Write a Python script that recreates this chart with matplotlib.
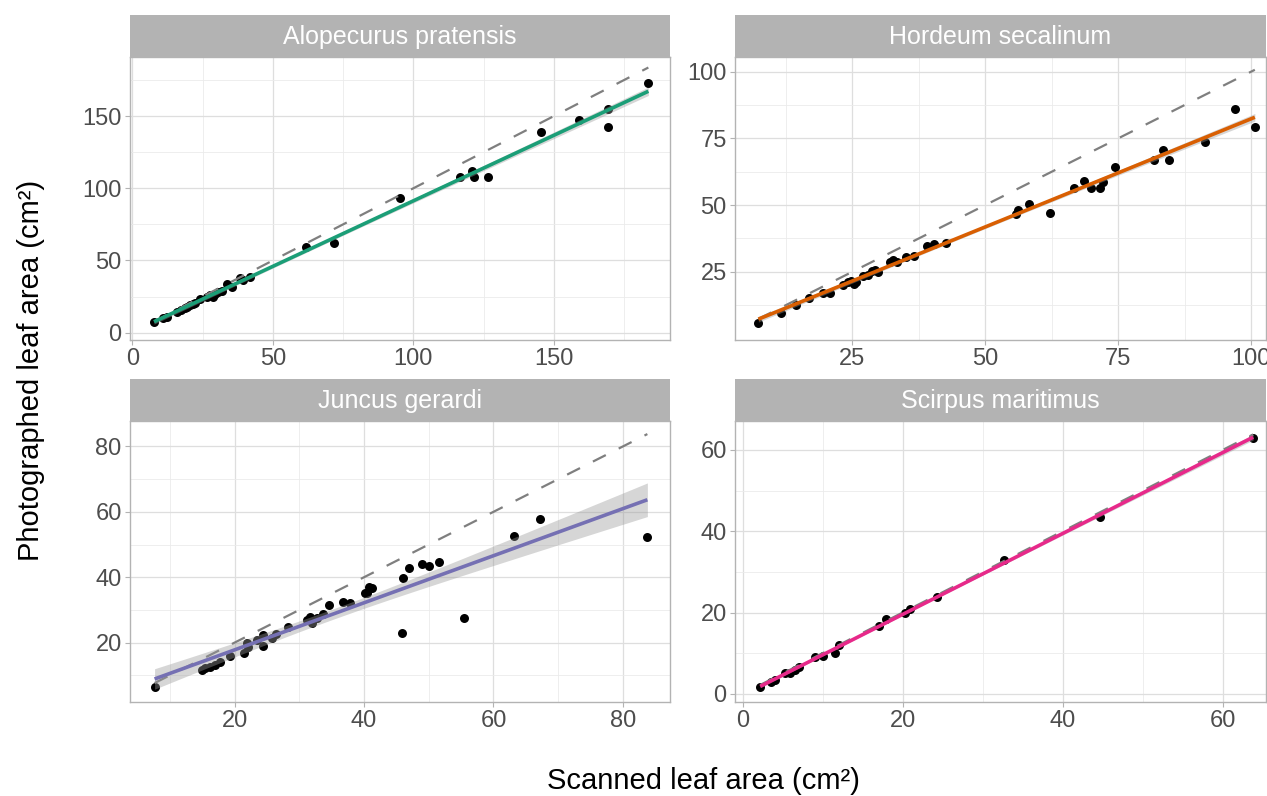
import numpy as np
import matplotlib
matplotlib.use("Agg")
import matplotlib.pyplot as plt
from matplotlib.ticker import FixedLocator

plt.rcParams['font.family'] = ['Liberation Sans', 'DejaVu Sans']

species = ["Alopecurus pratensis", "Hordeum secalinum", "Juncus gerardi", "Scirpus maritimus"]
colors = ["#1B9E77", "#D95F02", "#7570B3", "#E7298A"]

alo_x = [7.7, 11.0, 12.2, 15.8, 17.2, 18.7, 19.5, 20.6, 21.5, 22.4, 24.1, 26.5, 27.6, 28.8, 29.5,
         30.6, 31.8, 33.6, 35.3, 38.3, 39.5, 41.9, 61.6, 71.9, 95.3, 116.7, 120.7, 121.5, 126.6,
         145.4, 158.9, 169.1, 169.1, 183.6]
alo_y = [7.4, 9.9, 11.1, 14.5, 15.5, 16.9, 18.0, 19.2, 19.5, 20.8, 23.1, 25.0, 26.1, 24.9, 27.0,
         28.4, 29.1, 33.5, 31.9, 37.7, 36.5, 38.8, 59.6, 61.9, 93.0, 107.7, 111.7, 107.7, 107.5,
         138.7, 147.3, 155.1, 142.2, 172.7]

hor_x = [7.3, 11.5, 14.4, 16.9, 19.4, 20.7, 23.2, 24.2, 24.7, 25.2, 25.6, 27.0, 28.0, 28.7, 29.3,
         29.8, 32.0, 32.7, 33.3, 35.1, 36.6, 39.1, 40.3, 42.6, 55.7, 56.1, 58.3, 62.2, 66.6, 68.5,
         69.9, 71.6, 72.2, 74.4, 81.7, 83.5, 84.6, 91.4, 97.0, 100.7]
hor_y = [5.6, 9.6, 12.7, 15.0, 16.9, 17.1, 20.2, 21.2, 21.5, 20.3, 21.0, 23.4, 23.8, 25.4, 25.8,
         24.8, 28.7, 29.4, 28.5, 30.6, 31.0, 34.7, 35.4, 35.6, 46.6, 48.1, 50.4, 47.2, 56.2, 59.1,
         56.2, 56.2, 58.7, 64.1, 66.9, 70.6, 66.9, 73.7, 86.0, 79.3]

jun_x = [7.6, 14.9, 15.4, 16.2, 17.0, 17.7, 19.3, 21.4, 22.1, 21.9, 23.4, 24.4, 24.4, 25.7, 26.3,
         28.3, 31.1, 31.9, 31.7, 32.7, 33.6, 34.6, 36.8, 37.8, 40.2, 40.7, 41.2, 40.5, 46.0, 47.0,
         45.8, 48.9, 50.0, 51.6, 55.4, 63.2, 67.2, 83.8]
jun_y = [6.5, 11.6, 12.1, 12.6, 13.1, 13.9, 15.9, 16.7, 18.7, 19.8, 20.8, 19.0, 22.3, 21.3, 22.5,
         24.9, 26.9, 25.9, 27.9, 27.4, 28.7, 31.5, 32.5, 32.2, 35.3, 37.1, 36.8, 35.1, 39.7, 42.9,
         22.8, 43.9, 43.5, 44.7, 27.4, 52.6, 57.9, 52.4]

sci_x = [2.2, 3.6, 4.0, 5.3, 5.9, 6.5, 7.0, 9.0, 10.1, 11.5, 12.0, 17.0, 17.9, 20.3, 20.9, 24.3,
         32.6, 44.7, 63.8]
sci_y = [1.8, 3.0, 3.4, 5.1, 5.2, 5.9, 6.7, 9.0, 9.2, 10.1, 12.0, 16.7, 18.3, 19.8, 20.8, 23.9,
         32.9, 43.5, 62.9]

xs = [alo_x, hor_x, jun_x, sci_x]
ys = [alo_y, hor_y, jun_y, sci_y]

xlims = [(-0.85, 191.3), (2.9, 102.8), (3.8, 87.3), (-0.95, 65.4)]
ylims = [(-5.1, 190.9), (-0.6, 105.5), (1.8, 87.8), (-2.0, 67.1)]
xmaj = [[0, 50, 100, 150], [25, 50, 75, 100], [20, 40, 60, 80], [0, 20, 40, 60]]
xmin_ = [[25, 75, 125, 175], [12.5, 37.5, 62.5, 87.5], [10, 30, 50, 70], [10, 30, 50]]
ymaj = [[0, 50, 100, 150], [25, 50, 75, 100], [20, 40, 60, 80], [0, 20, 40, 60]]
ymin_ = [[25, 75, 125, 175], [12.5, 37.5, 62.5, 87.5], [10, 30, 50, 70], [10, 30, 50]]

W, H = 1267, 796
fig = plt.figure(figsize=(W / 100, H / 100), dpi=100)

boxes = [(130, 670, 57, 340), (735, 1266, 57, 340), (130, 670, 421, 702), (735, 1266, 421, 702)]
strip_h = 42

for i in range(4):
    l, r, t, b = boxes[i]
    ax = fig.add_axes([l / W, 1 - b / H, (r - l) / W, (b - t) / H])
    sax = fig.add_axes([l / W, 1 - t / H, (r - l) / W, strip_h / H])
    sax.set_facecolor("#B3B3B3")
    sax.set_xticks([]); sax.set_yticks([])
    for sp in sax.spines.values():
        sp.set_visible(False)
    sax.text(0.5, 0.47, species[i], color="white", ha="center", va="center", fontsize=18,
             transform=sax.transAxes)

    x = np.array(xs[i]); y = np.array(ys[i])
    n = len(x)
    slope, icpt = np.polyfit(x, y, 1)
    xx = np.linspace(x.min(), x.max(), 100)
    yy = icpt + slope * xx
    resid = y - (icpt + slope * x)
    s = np.sqrt(np.sum(resid ** 2) / (n - 2))
    sxx = np.sum((x - x.mean()) ** 2)
    se = s * np.sqrt(1 / n + (xx - x.mean()) ** 2 / sxx)
    tval = 2.03

    ax.scatter(x, y, s=42, color="black", zorder=3, linewidths=0)
    ax.plot([x.min(), x.max()], [x.min(), x.max()], color="#7F7F7F", lw=1.6,
            linestyle=(0, (6.5, 6.5)), zorder=4)
    ax.fill_between(xx, yy - tval * se, yy + tval * se, color="#999999", alpha=0.4, lw=0, zorder=4.5)
    ax.plot(xx, yy, color=colors[i], lw=2.6, zorder=5, solid_capstyle="butt")

    ax.set_xlim(*xlims[i]); ax.set_ylim(*ylims[i])
    ax.xaxis.set_major_locator(FixedLocator(xmaj[i]))
    ax.xaxis.set_minor_locator(FixedLocator(xmin_[i]))
    ax.yaxis.set_major_locator(FixedLocator(ymaj[i]))
    ax.yaxis.set_minor_locator(FixedLocator(ymin_[i]))
    ax.grid(which="major", color="#DEDEDE", lw=0.9, zorder=0)
    ax.grid(which="minor", color="#EBEBEB", lw=0.6, zorder=0)
    ax.set_axisbelow(True)
    for sp in ax.spines.values():
        sp.set_color("#B3B3B3"); sp.set_linewidth(1.0)
    ax.tick_params(which="major", length=3.5, width=0.8, color="#B3B3B3",
                   labelsize=17, labelcolor="#4D4D4D", pad=2.5)
    ax.tick_params(which="minor", length=0)

fig.text(703 / W, 1 - 781 / H, "Scanned leaf area (cm²)", ha="center", va="center", fontsize=21)
fig.text(31 / W, 1 - 370 / H, "Photographed leaf area (cm²)", ha="center", va="center",
         fontsize=21, rotation=90)

fig.savefig("out.png", dpi=100)
